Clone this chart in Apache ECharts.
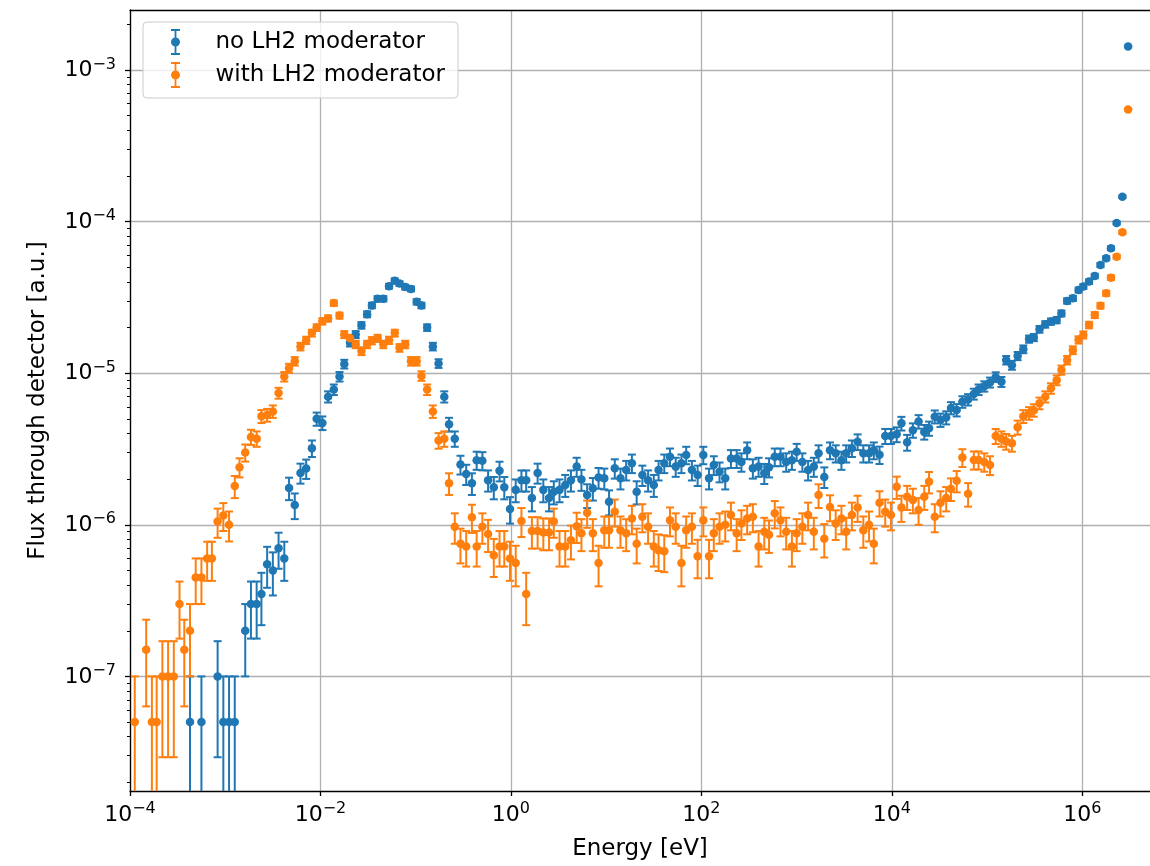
<!DOCTYPE html>
<html>
<head>
<meta charset="utf-8">
<script src="https://cdn.jsdelivr.net/npm/echarts@6/dist/echarts.min.js"></script>
<style>
    html, body { margin: 0; padding: 0; background: #fff; }
    #main { width: 1150px; height: 866px; }
</style>
</head>
<body>
<div id="main"></div>
<script>
    // bin energies, log10(E / eV)
    var energyExp = [
        -3.95, -3.89, -3.83, -3.77, -3.72, -3.66, -3.60, -3.54, -3.48, -3.43,
        -3.37, -3.31, -3.25, -3.19, -3.14, -3.08, -3.02, -2.96, -2.90, -2.85,
        -2.79, -2.73, -2.67, -2.62, -2.56, -2.50, -2.44, -2.38, -2.33, -2.27,
        -2.21, -2.15, -2.09, -2.04, -1.98, -1.92, -1.86, -1.80, -1.75, -1.69,
        -1.63, -1.57, -1.51, -1.46, -1.40, -1.34, -1.28, -1.22, -1.17, -1.11,
        -1.05, -0.99, -0.94, -0.88, -0.82, -0.76, -0.70, -0.65, -0.59, -0.53,
        -0.47, -0.41, -0.36, -0.30, -0.24, -0.18, -0.12, -0.07, -0.01, 0.05,
        0.11, 0.16, 0.22, 0.28, 0.34, 0.40, 0.45, 0.51, 0.57, 0.63,
        0.69, 0.74, 0.80, 0.86, 0.92, 0.98, 1.03, 1.09, 1.15, 1.21,
        1.27, 1.32, 1.38, 1.44, 1.50, 1.55, 1.61, 1.67, 1.73, 1.79,
        1.84, 1.90, 1.96, 2.02, 2.08, 2.13, 2.19, 2.25, 2.31, 2.37,
        2.42, 2.48, 2.54, 2.60, 2.66, 2.71, 2.77, 2.83, 2.89, 2.95,
        3.00, 3.06, 3.12, 3.18, 3.23, 3.29, 3.35, 3.41, 3.47, 3.52,
        3.58, 3.64, 3.70, 3.76, 3.81, 3.87, 3.93, 3.99, 4.05, 4.10,
        4.16, 4.22, 4.28, 4.34, 4.39, 4.45, 4.51, 4.57, 4.62, 4.68,
        4.74, 4.80, 4.86, 4.91, 4.97, 5.03, 5.09, 5.15, 5.20, 5.26,
        5.32, 5.38, 5.44, 5.49, 5.55, 5.61, 5.67, 5.73, 5.78, 5.84,
        5.90, 5.96, 6.01, 6.07, 6.13, 6.19, 6.25, 6.30, 6.36, 6.42,
        6.48
    ];

    // flux without moderator (null = empty bin)
    var fluxNoLH2 = [
        null, null, null, null, null, null, null, null, null, null,
        5e-8, null, 5e-8, null, null, 1e-7, 5e-8, 5e-8, 5e-8, null,
        2e-7, 3e-7, 3e-7, 3.5e-7, 5.5e-7, 5e-7, 7e-7, 6e-7, 1.75e-6, 1.35e-6,
        2.2e-6, 2.35e-6, 3.2e-6, 5e-6, 4.7e-6, 7e-6, 7.8e-6, 9.5e-6, 1.15e-5, 1.59e-5,
        1.8e-5, 2.07e-5, 2.45e-5, 2.8e-5, 3.1e-5, 3.1e-5, 3.75e-5, 4.08e-5, 3.9e-5, 3.7e-5,
        3.6e-5, 2.96e-5, 2.8e-5, 2.0e-5, 1.5e-5, 1.16e-5, 7e-6, 4.6e-6, 3.7e-6, 2.5e-6,
        2.16e-6, 1.88e-6, 2.67e-6, 2.65e-6, 1.97e-6, 1.77e-6, 2.27e-6, 1.77e-6, 1.27e-6, 1.7e-6,
        1.97e-6, 1.97e-6, 1.5e-6, 2.2e-6, 1.7e-6, 1.5e-6, 1.65e-6, 1.7e-6, 1.83e-6, 1.97e-6,
        2.42e-6, 1.99e-6, 1.57e-6, 1.74e-6, 2.05e-6, 2.03e-6, 1.42e-6, 2.36e-6, 2.03e-6, 2.3e-6,
        2.55e-6, 1.65e-6, 2.13e-6, 1.97e-6, 1.83e-6, 2.3e-6, 2.55e-6, 2.81e-6, 2.42e-6, 2.55e-6,
        2.89e-6, 2.3e-6, 2.13e-6, 2.89e-6, 2.03e-6, 2.48e-6, 2.24e-6, 2.03e-6, 2.74e-6, 2.74e-6,
        2.6e-6, 3.1e-6, 2.36e-6, 2.42e-6, 2.19e-6, 2.4e-6, 2.81e-6, 2.81e-6, 2.6e-6, 2.67e-6,
        3.03e-6, 2.6e-6, 2.3e-6, 2.42e-6, 2.96e-6, 2.07e-6, 3.1e-6, 2.96e-6, 2.67e-6, 2.96e-6,
        3.2e-6, 3.53e-6, 2.96e-6, 2.96e-6, 3.1e-6, 2.9e-6, 3.85e-6, 3.85e-6, 3.95e-6, 4.67e-6,
        3.5e-6, 4.21e-6, 4.8e-6, 4.1e-6, 4.33e-6, 5.17e-6, 4.92e-6, 5.1e-6, 5.9e-6, 5.72e-6,
        6.48e-6, 6.7e-6, 7.3e-6, 7.8e-6, 8.2e-6, 8.7e-6, 9.45e-6, 8.78e-6, 1.22e-5, 1.13e-5,
        1.3e-5, 1.44e-5, 1.68e-5, 1.72e-5, 1.95e-5, 2.1e-5, 2.19e-5, 2.24e-5, 2.48e-5, 3.0e-5,
        3.12e-5, 3.54e-5, 3.73e-5, 4.02e-5, 4.38e-5, 5.17e-5, 5.73e-5, 6.67e-5, 9.8e-5, 1.46e-4,
        1.43e-3
    ];

    // flux with LH2 moderator
    var fluxWithLH2 = [
        5e-8, null, 1.5e-7, 5e-8, 5e-8, 1e-7, 1e-7, 1e-7, 3e-7, 1.5e-7,
        2e-7, 4.5e-7, 4.5e-7, 6e-7, 6e-7, 1.05e-6, 1.15e-6, 1.0e-6, 1.8e-6, 2.4e-6,
        3.0e-6, 3.8e-6, 3.7e-6, 5.2e-6, 5.3e-6, 5.6e-6, 7.4e-6, 9.5e-6, 1.08e-5, 1.2e-5,
        1.5e-5, 1.65e-5, 1.84e-5, 2.0e-5, 2.2e-5, 2.3e-5, 2.9e-5, 2.4e-5, 1.8e-5, 1.7e-5,
        1.55e-5, 1.4e-5, 1.55e-5, 1.64e-5, 1.7e-5, 1.55e-5, 1.65e-5, 1.84e-5, 1.47e-5, 1.55e-5,
        1.2e-5, 1.2e-5, 9.6e-6, 7.8e-6, 5.6e-6, 3.6e-6, 3.7e-6, 1.88e-6, 9.7e-7, 7.5e-7,
        7.2e-7, 1.12e-6, 7.2e-7, 9.7e-7, 8.7e-7, 6.3e-7, 7.2e-7, 7.2e-7, 6.0e-7, 5.6e-7,
        1.06e-6, 3.5e-7, 9.1e-7, 9.1e-7, 8.9e-7, 8.9e-7, 1.05e-6, 7.2e-7, 7.2e-7, 7.9e-7,
        9.8e-7, 8.8e-7, 1.2e-6, 8.8e-7, 5.6e-7, 9.2e-7, 9.2e-7, 1.22e-6, 9.2e-7, 8.8e-7,
        1.1e-6, 7.5e-7, 1.13e-6, 9.7e-7, 7.2e-7, 6.8e-7, 6.7e-7, 1.07e-6, 9.7e-7, 5.6e-7,
        9.2e-7, 9.7e-7, 6.2e-7, 1.07e-6, 6.2e-7, 8.8e-7, 9.7e-7, 1.0e-6, 1.16e-6, 8.8e-7,
        1.02e-6, 1.1e-6, 1.13e-6, 7.2e-7, 9e-7, 8.6e-7, 1.19e-6, 1.07e-6, 9e-7, 7.2e-7,
        8.8e-7, 9.7e-7, 1.16e-6, 9e-7, 1.57e-6, 8.1e-7, 1.31e-6, 1.02e-6, 1.1e-6, 9e-7,
        1.16e-6, 1.3e-6, 9.2e-7, 1.0e-6, 7.5e-7, 1.4e-6, 1.22e-6, 1.16e-6, 1.78e-6, 1.3e-6,
        1.53e-6, 1.46e-6, 1.25e-6, 1.53e-6, 1.92e-6, 1.13e-6, 1.4e-6, 1.5e-6, 1.73e-6, 1.95e-6,
        2.78e-6, 1.6e-6, 2.68e-6, 2.68e-6, 2.6e-6, 2.48e-6, 3.85e-6, 3.7e-6, 3.55e-6, 3.45e-6,
        4.4e-6, 5.2e-6, 5.45e-6, 5.7e-6, 6.34e-6, 7.0e-6, 7.95e-6, 9.0e-6, 1.05e-5, 1.22e-5,
        1.42e-5, 1.66e-5, 1.79e-5, 2.08e-5, 2.42e-5, 2.79e-5, 3.37e-5, 4.27e-5, 5.87e-5, 8.5e-5,
        5.5e-4
    ];

    // flux of one count; bars are sqrt(n) counts
    var countUnit = 5e-8;

    var xTickExp = [-4, -2, 0, 2, 4, 6];
    var yTickExp = [-7, -6, -5, -4, -3];

    var X_MIN = -4, X_MAX = 6.71;
    var Y_MIN = -7.756, Y_MAX = -2.604;
    var FONT = 'DejaVu Sans';
    var BLUE = '#1f77b4', ORANGE = '#ff7f0e';
    var NAME_A = 'no LH2 moderator', NAME_B = 'with LH2 moderator';

    // log minor ticks 2..9 in every decade
    var yMinorExp = [];
    for (var d = -8; d <= -3; d++) {
        for (var k = 2; k <= 9; k++) {
            var m = d + Math.log10(k);
            if (m > Y_MIN && m < Y_MAX) yMinorExp.push(m);
        }
    }

    function powLabel(v) {
        var e = Math.round(v);
        var s = e < 0 ? '\u2212' + (-e) : String(e);
        return '{b|10}{e|' + s + '}';
    }
    var powRich = {
        b: { fontFamily: FONT, fontSize: 22, lineHeight: 23, color: '#000', verticalAlign: 'bottom' },
        e: { fontFamily: FONT, fontSize: 16, lineHeight: 16, color: '#000', verticalAlign: 'bottom', padding: [0, 0, 9, 0] }
    };

    function points(flux) {
        var out = [];
        flux.forEach(function (v, i) {
            if (v == null) return;
            out.push([energyExp[i], Math.log10(v)]);
        });
        return out;
    }

    function errBars(flux) {
        var out = [];
        flux.forEach(function (v, i) {
            if (v == null) return;
            var err = Math.sqrt(v * countUnit);
            var lo = v - err;
            out.push([energyExp[i], Math.log10(v + err), lo > v * 1e-6 ? Math.log10(lo) : Y_MIN - 1]);
        });
        return out;
    }

    function renderErr(params, api) {
        var x = api.value(0);
        var loVal = api.value(2);
        var top = api.coord([x, api.value(1)]);
        var bot = api.coord([x, Math.max(loVal, Y_MIN)]);
        var st = { stroke: api.visual('color'), lineWidth: 2 };
        var kids = [
            { type: 'line', shape: { x1: top[0], y1: top[1], x2: bot[0], y2: bot[1] }, style: st },
            { type: 'line', shape: { x1: top[0] - 4, y1: top[1], x2: top[0] + 4, y2: top[1] }, style: st }
        ];
        if (loVal > Y_MIN) {
            kids.push({ type: 'line', shape: { x1: bot[0] - 4, y1: bot[1], x2: bot[0] + 4, y2: bot[1] }, style: st });
        }
        return { type: 'group', children: kids };
    }

    var ICON = 'path://M2.5,0H11.5V2H2.5Z M6.1,0H7.9V26H6.1Z M2.5,24H11.5V26H2.5Z M7,8.5A4.5,4.5 0 1,1 7,17.5A4.5,4.5 0 1,1 7,8.5Z';

    var myChart = echarts.init(document.getElementById('main'));

    var option = {
        animation: false,
        backgroundColor: '#fff',
        grid: { left: 130, right: 0, top: 10, bottom: 75 },
        legend: {
            orient: 'vertical',
            left: 143,
            top: 22,
            padding: [7, 13, 10, 28],
            itemWidth: 14,
            itemHeight: 26,
            itemGap: 7,
            backgroundColor: 'rgba(255,255,255,0.8)',
            borderColor: '#cccccc',
            borderWidth: 1,
            borderRadius: 4,
            textStyle: { fontFamily: FONT, fontSize: 23, color: '#000', lineHeight: 26, padding: [0, 0, 0, 28] },
            data: [{ name: NAME_A, icon: ICON }, { name: NAME_B, icon: ICON }]
        },
        xAxis: [{
            type: 'value',
            min: X_MIN,
            max: X_MAX,
            position: 'bottom',
            axisLine: { onZero: false, lineStyle: { color: '#000', width: 1.3 } },
            axisTick: { customValues: xTickExp, length: 5, lineStyle: { color: '#000', width: 1.3 } },
            axisLabel: { customValues: xTickExp, margin: 12, formatter: powLabel, rich: powRich },
            splitLine: { show: true, lineStyle: { color: '#b0b0b0', width: 1.3 } },
            name: 'Energy [eV]',
            nameLocation: 'middle',
            nameGap: 47,
            nameTextStyle: { fontFamily: FONT, fontSize: 23, color: '#000' }
        }, {
            type: 'value',
            min: X_MIN,
            max: X_MAX,
            position: 'top',
            axisLine: { onZero: false, lineStyle: { color: '#000', width: 1.3 } },
            axisTick: { show: false },
            axisLabel: { show: false },
            splitLine: { show: false }
        }],
        yAxis: [{
            type: 'value',
            min: Y_MIN,
            max: Y_MAX,
            position: 'left',
            axisLine: { show: true, onZero: false, lineStyle: { color: '#000', width: 1.3 } },
            axisTick: { customValues: yTickExp, length: 5, lineStyle: { color: '#000', width: 1.3 } },
            axisLabel: { customValues: yTickExp, margin: 14, formatter: powLabel, rich: powRich },
            splitLine: { show: true, lineStyle: { color: '#b0b0b0', width: 1.3 } },
            name: 'Flux through detector [a.u.]',
            nameLocation: 'middle',
            nameGap: 80,
            nameTextStyle: { fontFamily: FONT, fontSize: 23, color: '#000' }
        }, {
            type: 'value',
            min: Y_MIN,
            max: Y_MAX,
            position: 'left',
            offset: 0,
            axisLine: { show: false, onZero: false },
            axisTick: { customValues: yMinorExp, length: 3, lineStyle: { color: '#000', width: 1 } },
            axisLabel: { show: false },
            splitLine: { show: false }
        }],
        series: [
            {
                name: NAME_A, type: 'custom', renderItem: renderErr, clip: true,
                itemStyle: { color: BLUE }, encode: { x: 0, y: [1, 2] },
                data: errBars(fluxNoLH2)
            },
            {
                name: NAME_A, type: 'scatter', symbol: 'circle', symbolSize: 8.5, clip: true,
                itemStyle: { color: BLUE, opacity: 1 }, data: points(fluxNoLH2)
            },
            {
                name: NAME_B, type: 'custom', renderItem: renderErr, clip: true,
                itemStyle: { color: ORANGE }, encode: { x: 0, y: [1, 2] },
                data: errBars(fluxWithLH2)
            },
            {
                name: NAME_B, type: 'scatter', symbol: 'circle', symbolSize: 8.5, clip: true,
                itemStyle: { color: ORANGE, opacity: 1 }, data: points(fluxWithLH2)
            }
        ]
    };

    myChart.setOption(option);
</script>
</body>
</html>
